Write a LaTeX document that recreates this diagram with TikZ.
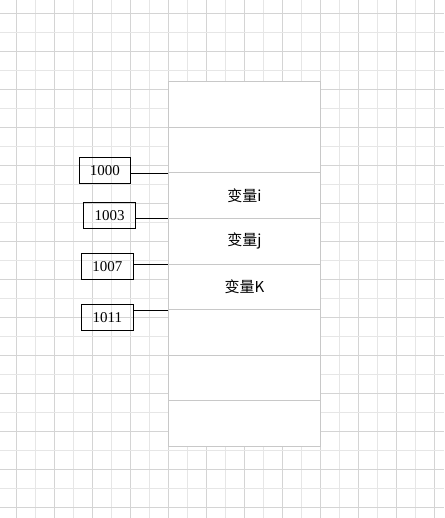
\documentclass[tikz,border=0pt]{standalone}
\usepackage{fontspec}
\setmainfont{Liberation Serif}
\newfontfamily\cjk{Noto Sans CJK SC}
\usepackage{tikz}
\definecolor{gridA}{HTML}{D4D4D4}
\definecolor{gridB}{HTML}{E6E6E6}
\definecolor{cellline}{HTML}{C8C8C8}
\tikzset{
  gridmajor/.style={draw=gridA, line width=1pt},
  gridminor/.style={draw=gridB, line width=1pt},
  memcell/.style={draw=cellline, fill=white, line width=1pt, inner sep=0pt,
    minimum width=151.6pt, minimum height=45.6pt, font=\cjk\fontsize{15}{17}\selectfont},
  addrbox/.style={draw=black, line width=1pt, inner sep=0pt, minimum height=26.3pt,
    font=\fontsize{15}{17}\selectfont},
}

\begin{document}
\begin{tikzpicture}[x=1pt, y=-1pt]
\useasboundingbox (0,0) rectangle (444,518);
\fill[white] (0,0) rectangle (444,518);
% grid paper
\foreach \k in {0,2,...,22} \draw[gridmajor] ({16.3+19*\k},0) -- ++(0,518);
\foreach \k in {1,3,...,21} \draw[gridminor] ({16.3+19*\k},0) -- ++(0,518);
\foreach \k in {0,2,...,26} \draw[gridmajor] (0,{13.3+19*\k}) -- ++(444,0);
\foreach \k in {1,3,...,25} \draw[gridminor] (0,{13.3+19*\k}) -- ++(444,0);

% memory cells
\node[memcell] (cell1) at (244.5,104.5) {};
\node[memcell] (cell2) at (244.5,150.1) {};
\node[memcell] (cell3) at (244.5,195.7) {变量i};
\node[memcell] (cell4) at (244.5,241.3) {变量j};
\node[memcell] (cell5) at (244.5,286.9) {变量K};
\node[memcell] (cell6) at (244.5,332.5) {};
\node[memcell] (cell7) at (244.5,378.1) {};
\node[memcell] (cell8) at (244.5,423.7) {};

% addresses
\node[addrbox, minimum width=51.7pt] (a1000) at (104.9,170.7) {1000};
\node[addrbox, minimum width=52.4pt] (a1003) at (109.5,215.2) {1003};
\node[addrbox, minimum width=52pt] (a1007) at (107.3,266.3) {1007};
\node[addrbox, minimum width=52pt] (a1011) at (107.3,317.3) {1011};

\draw[line width=1pt] (a1000.east |- cell2.south west) -- (cell2.south west);
\draw[line width=1pt] (a1003.east |- cell3.south west) -- (cell3.south west);
\draw[line width=1pt] (a1007.east |- cell4.south west) -- (cell4.south west);
\draw[line width=1pt] (a1011.east |- cell5.south west) -- (cell5.south west);
\end{tikzpicture}
\end{document}
